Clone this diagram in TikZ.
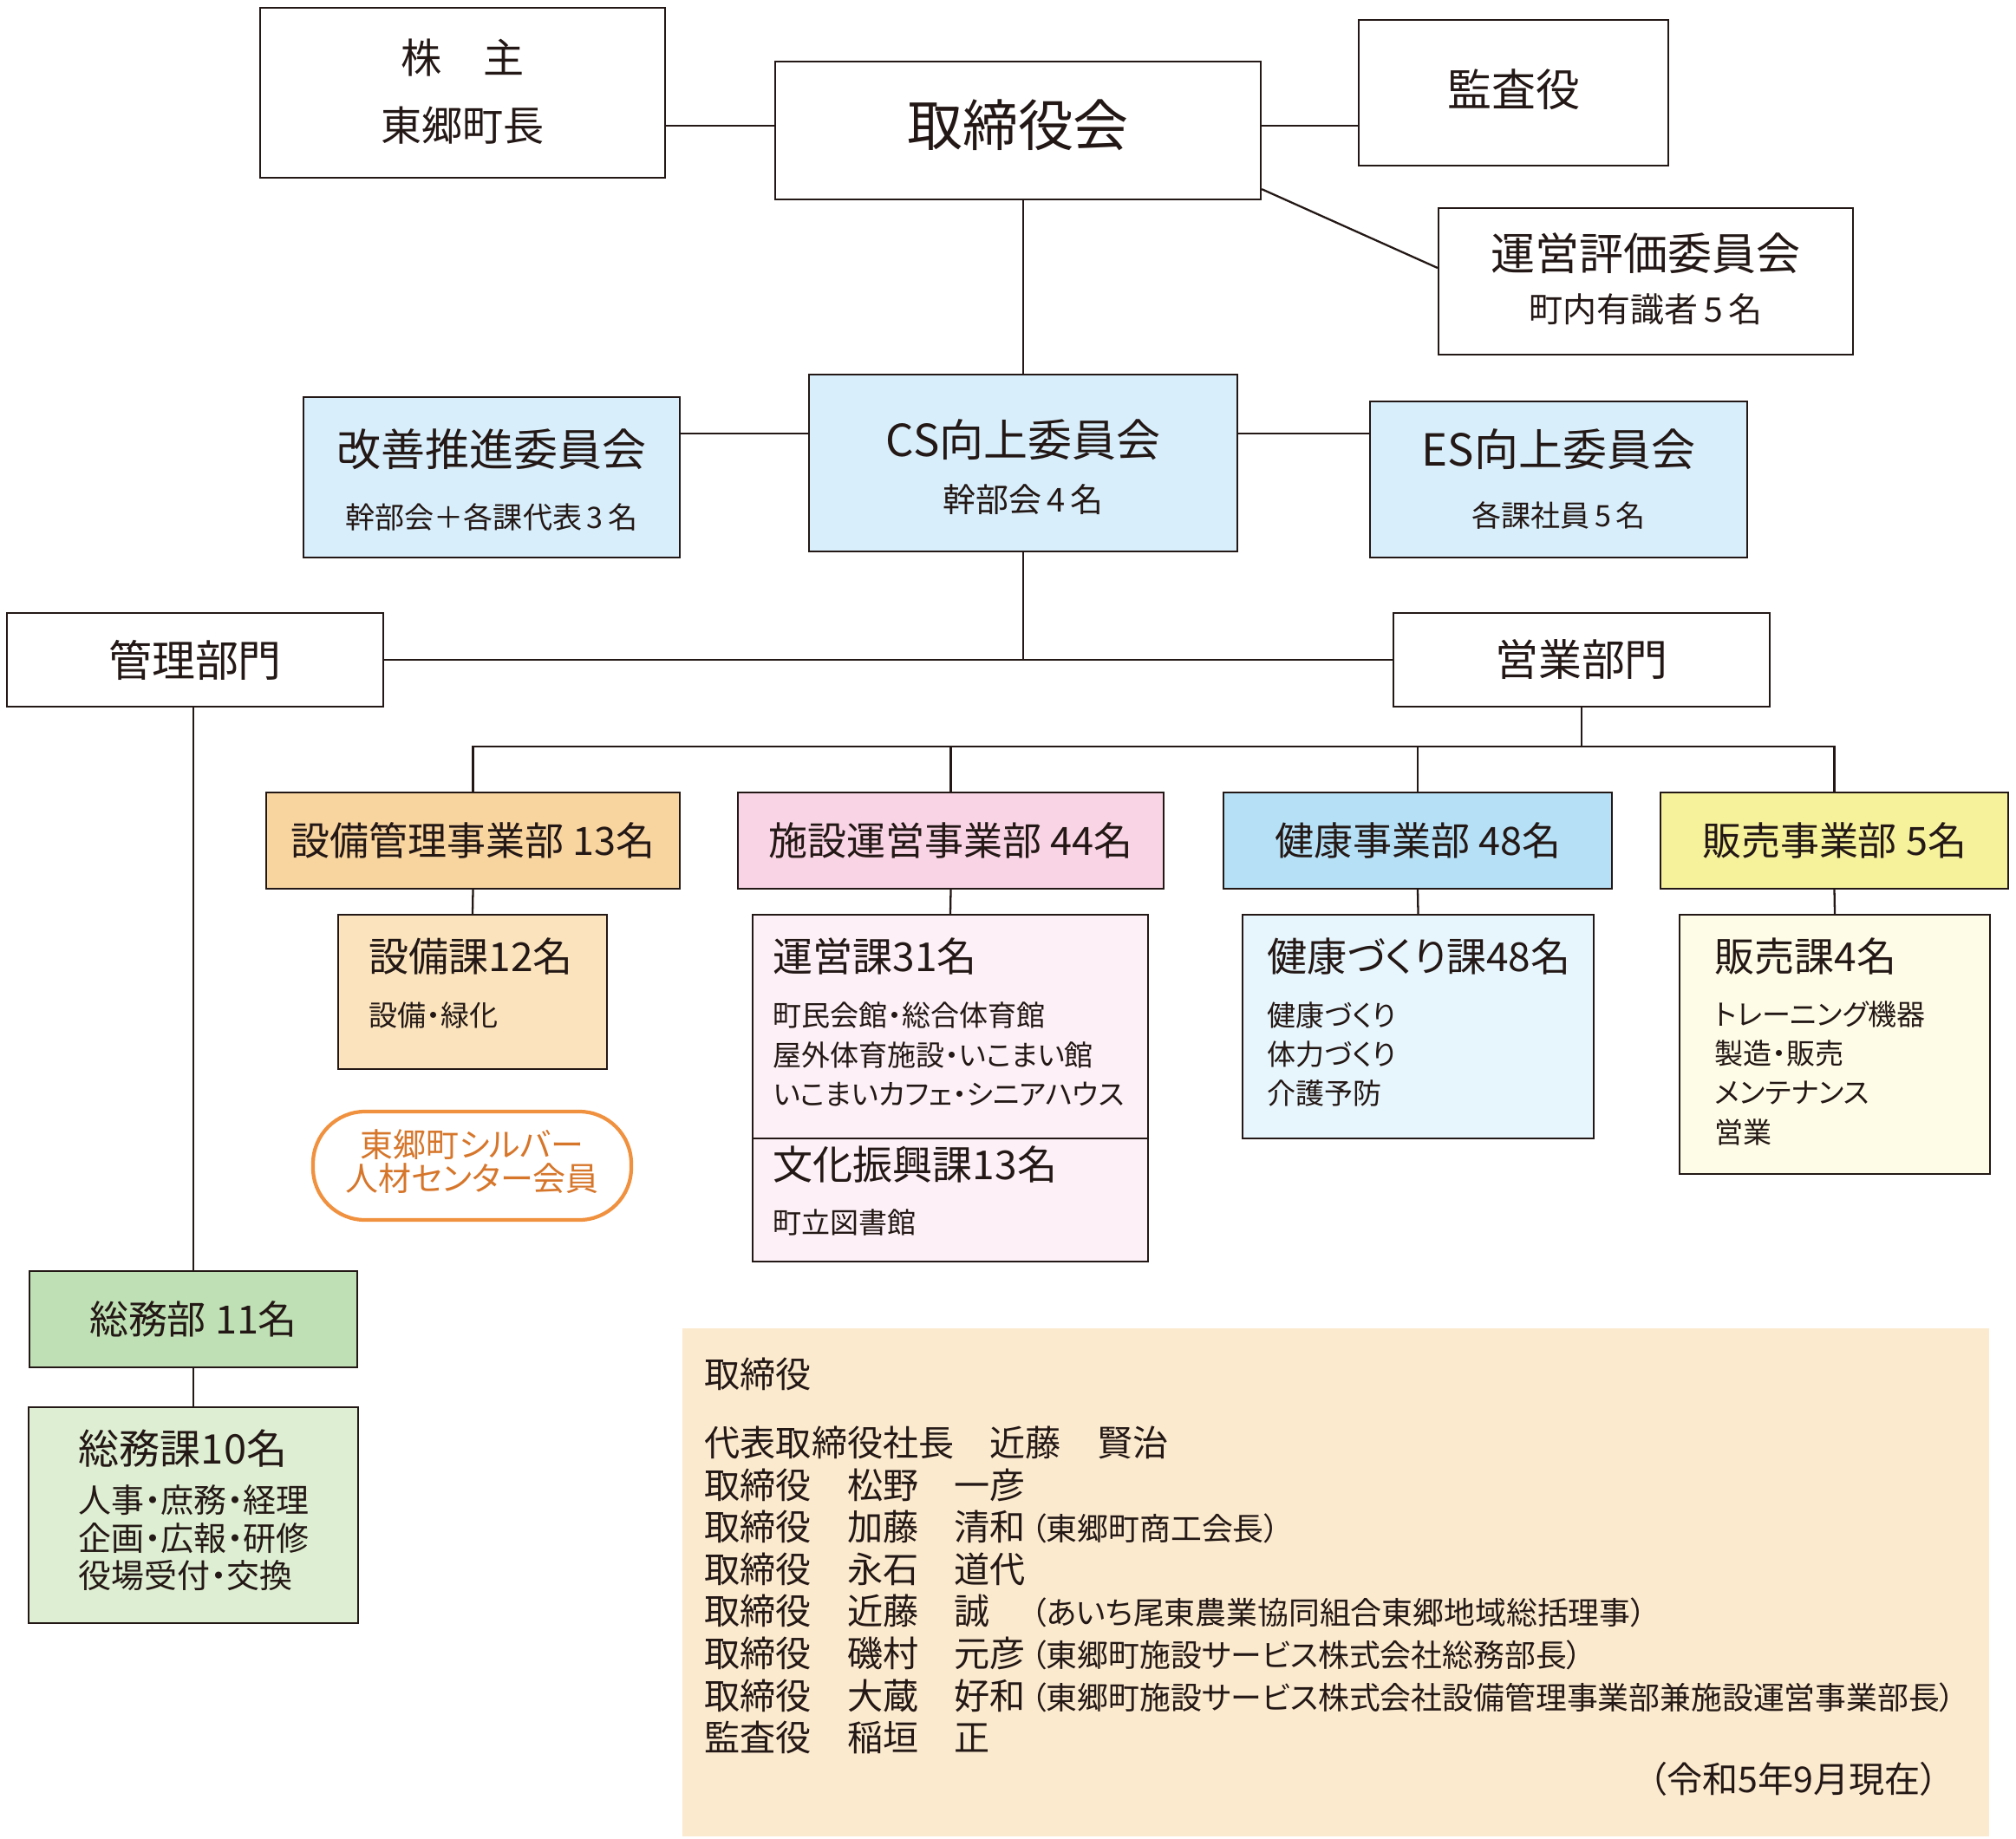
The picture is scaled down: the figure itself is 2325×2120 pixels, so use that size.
\documentclass[tikz,border=0pt]{standalone}
\usepackage{fontspec}
\setmainfont{Noto Sans CJK JP}[RawFeature=+palt]
\newfontfamily\memofont{Noto Sans CJK JP}
\definecolor{ink}{HTML}{231815}
\definecolor{comfill}{HTML}{D8EEFB}
\definecolor{setsubiD}{HTML}{F8D49F}
\definecolor{setsubiK}{HTML}{FBE4BD}
\definecolor{shisetsuD}{HTML}{F9D4E5}
\definecolor{shisetsuK}{HTML}{FDF0F6}
\definecolor{kenkoD}{HTML}{B5E0F6}
\definecolor{kenkoK}{HTML}{E7F5FC}
\definecolor{hanbaiD}{HTML}{F6F29C}
\definecolor{hanbaiK}{HTML}{FEFCE7}
\definecolor{soumuD}{HTML}{BFE0B4}
\definecolor{soumuK}{HTML}{DEEED2}
\definecolor{memofill}{HTML}{FCEACF}
\definecolor{silver}{HTML}{F0913F}
\definecolor{silvertext}{HTML}{D6762B}
\newcommand\aside[1]{{\rmfamily\fontsize{10.2pt}{12pt}\selectfont \kern0.6mm（#1）}}
\usetikzlibrary{positioning}

\begin{document}
\begin{tikzpicture}[
  x=0.1mm, y=-0.1mm,
  fs/.style 2 args={font=\fontsize{#1pt}{#2pt}\selectfont},
  box/.style={draw=ink, line width=0.65pt, inner sep=0pt, text=ink},
  wire/.style={draw=ink, line width=0.65pt},
  txt/.style={inner sep=0pt, text=ink},
  head/.style={txt, fs={14.5}{17}},
  dept/.style={box, minimum height=11.1mm, fs={12.8}{15}},
  secttitle/.style={txt, anchor=west, fs={13.1}{15}},
  sectnote/.style={txt, anchor=west, align=left, fs={9.4}{12.9}},
  memo/.style={txt, anchor=west, font=\memofont\fontsize{11.7pt}{14pt}\selectfont},
]
\useasboundingbox (0,0) rectangle (2325,2120);

% top level
\node[box, minimum width=46.7mm, minimum height=19.6mm] (kabu) at (533.5,107) {};
\node[txt, fs={13.4}{16}] (kabu-t) at (533.5,67) {株\quad 主};
\node[txt, fs={13.4}{16}] (kabu-s) at (533.5,145) {東郷町長};
\node[box, minimum width=56mm, minimum height=15.9mm] (board) at (1174,150.5) {};
\node[txt, fs={18.2}{21}] (board-t) at (1174,144) {取締役会};
\node[box, minimum width=35.7mm, minimum height=16.8mm] (audit) at (1745.5,107) {};
\node[head] (audit-t) at (1745.5,103) {監査役};
\node[box, minimum width=47.8mm, minimum height=16.9mm] (eval) at (1898,324.5) {};
\node[head] (eval-t) at (1898,292) {運営評価委員会};
\node[txt, fs={11.1}{13}] (eval-s) at (1898,357) {町内有識者\,5\,名};

% committees
\node[box, fill=comfill, minimum width=43.4mm, minimum height=18.5mm] (kaizen) at (567,550.5) {};
\node[head] (kaizen-t) at (567,518) {改善推進委員会};
\node[txt, fs={9.7}{12}] (kaizen-s) at (567,596) {幹部会＋各課代表\,3\,名};
\node[box, fill=comfill, minimum width=49.4mm, minimum height=20.4mm] (cs) at (1180,534) {};
\node[head] (cs-t) at (1180,507) {CS向上委員会};
\node[txt, fs={10.8}{13}] (cs-s) at (1180,576) {幹部会\,4\,名};
\node[box, fill=comfill, minimum width=43.5mm, minimum height=18mm] (es) at (1797.5,553) {};
\node[head] (es-t) at (1797.5,518) {ES向上委員会};
\node[txt, fs={9.7}{12}] (es-s) at (1797.5,594) {各課社員\,5\,名};

% divisions
\node[box, minimum width=43.4mm, minimum height=10.8mm, fs={14.2}{17}] (kanri) at (225,761) {管理部門};
\node[box, minimum width=43.4mm, minimum height=10.8mm, fs={14.2}{17}] (eigyo) at (1824,761) {営業部門};

% departments
\node[dept, fill=setsubiD, minimum width=47.7mm] (d1) at (545.5,969.5) {設備管理事業部 13名};
\node[dept, fill=shisetsuD, minimum width=49.1mm] (d2) at (1096.5,969.5) {施設運営事業部 44名};
\node[dept, fill=kenkoD, minimum width=44.8mm] (d3) at (1635,969.5) {健康事業部 48名};
\node[dept, fill=hanbaiD, minimum width=40.1mm] (d4) at (2115.5,969.5) {販売事業部 5名};

% sections
\node[box, fill=setsubiK, minimum width=31mm, minimum height=17.8mm] (s1) at (545,1144) {};
\node[secttitle] (s1-t) at (425,1103) {設備課12名};
\node[sectnote] (s1-s) at (425,1171) {設備・緑化};
\node[box, fill=shisetsuK, minimum width=45.6mm, minimum height=25.8mm] (s2a) at (1096,1184) {};
\node[secttitle] (s2a-t) at (891,1103) {運営課31名};
\node[sectnote] (s2a-s) at (891,1216) {町民会館・総合体育館\\屋外体育施設・いこまい館\\いこまいカフェ・シニアハウス};
\node[box, fill=shisetsuK, minimum width=45.6mm, minimum height=14.2mm] (s2b) at (1096,1384) {};
\node[secttitle] (s2b-t) at (891,1343) {文化振興課13名};
\node[sectnote] (s2b-s) at (891,1410) {町立図書館};
\node[box, fill=kenkoK, minimum width=40.5mm, minimum height=25.8mm] (s3) at (1635.5,1184) {};
\node[secttitle] (s3-t) at (1461,1103) {健康づくり課48名};
\node[sectnote] (s3-s) at (1461,1216) {健康づくり\\体力づくり\\介護予防};
\node[box, fill=hanbaiK, minimum width=35.8mm, minimum height=29.9mm] (s4) at (2116,1204.5) {};
\node[secttitle] (s4-t) at (1977,1103) {販売課4名};
\node[sectnote] (s4-s) at (1977,1237.5) {トレーニング機器\\製造・販売\\メンテナンス\\営業};

\node[draw=silver, line width=1.2pt, rounded corners=6mm, minimum width=36.7mm, minimum height=12.5mm] (silverbox) at (544.5,1344.5) {};
\node[inner sep=0pt, text=silvertext, align=center, fs={10.8}{11.1}] (silver-t) at (544.5,1339.5) {東郷町シルバー\\人材センター会員};

% general affairs
\node[box, fill=soumuD, minimum width=37.8mm, minimum height=11.1mm, fs={12.8}{15}] (soumubu) at (223,1521.5) {総務部 11名};
\node[box, fill=soumuK, minimum width=38mm, minimum height=24.9mm] (soumuka) at (223,1747.5) {};
\node[txt, anchor=west, fs={13.4}{16}] (soumuka-t) at (90,1671) {総務課10名};
\node[txt, anchor=west, align=left, fs={10.8}{12.4}] (soumuka-s) at (90,1774) {人事・庶務・経理\\企画・広報・研修\\役場受付・交換};

% connectors
\draw[wire] ([yshift=0.55mm]board.west) -- ([yshift=0.55mm]board.west -| kabu.east);
\draw[wire] ([yshift=0.55mm]board.east) -- ([yshift=0.55mm]board.east -| audit.west);
\draw[wire] ([yshift=1.3mm]board.south east) -- ([yshift=1.55mm]eval.west);
\draw[wire] (cs.north |- board.south) -- (cs.north);
\draw[wire] ([yshift=3.4mm]cs.west) -- ([yshift=3.4mm]cs.west -| kaizen.east);
\draw[wire] ([yshift=3.4mm]cs.east) -- ([yshift=3.4mm]cs.east -| es.west);
\draw[wire] (kanri.east) -- (eigyo.west);
\draw[wire] (cs.south) -- (cs.south |- kanri.east);
\coordinate (bus) at (1824,861);
\draw[wire] (eigyo.south) -- (bus);
\draw[wire] (d1.north) |- (bus) -| (d4.north);
\foreach \d in {d2,d3}
  \draw[wire] (\d.north) -- (\d.north |- bus);
\foreach \d/\s in {d1/s1,d2/s2a,d3/s3,d4/s4}
  \draw[wire] (\d.south) -- (\s.north);
\draw[wire] (soumubu.north |- kanri.south) -- (soumubu.north);
\draw[wire] (soumubu.south) -- (soumuka.north);

% board members
\node[fill=memofill, inner sep=0pt, minimum width=150.7mm, minimum height=58.6mm] (memo) at (1540.5,1825) {};
\node[memo] (memo-t) at (812,1585) {取締役};
\foreach \k/\who in {0/代表取締役社長　近藤　賢治,
    1/取締役　松野　一彦,
    2/取締役　加藤　清和\aside{東郷町商工会長},
    3/取締役　永石　道代,
    4/取締役　近藤　誠　\aside{あいち尾東農業協同組合東郷地域総括理事},
    5/取締役　磯村　元彦\aside{東郷町施設サービス株式会社総務部長},
    6/取締役　大蔵　好和\aside{東郷町施設サービス株式会社設備管理事業部兼施設運営事業部長},
    7/監査役　稲垣　正}
  \node[memo] (memo-\k) at (812,1664+48.6*\k) {\who};
\node[txt, anchor=east, fs={11.7}{14}] (memo-date) at (2236,2052) {（令和5年9月現在）};
\end{tikzpicture}
\end{document}
